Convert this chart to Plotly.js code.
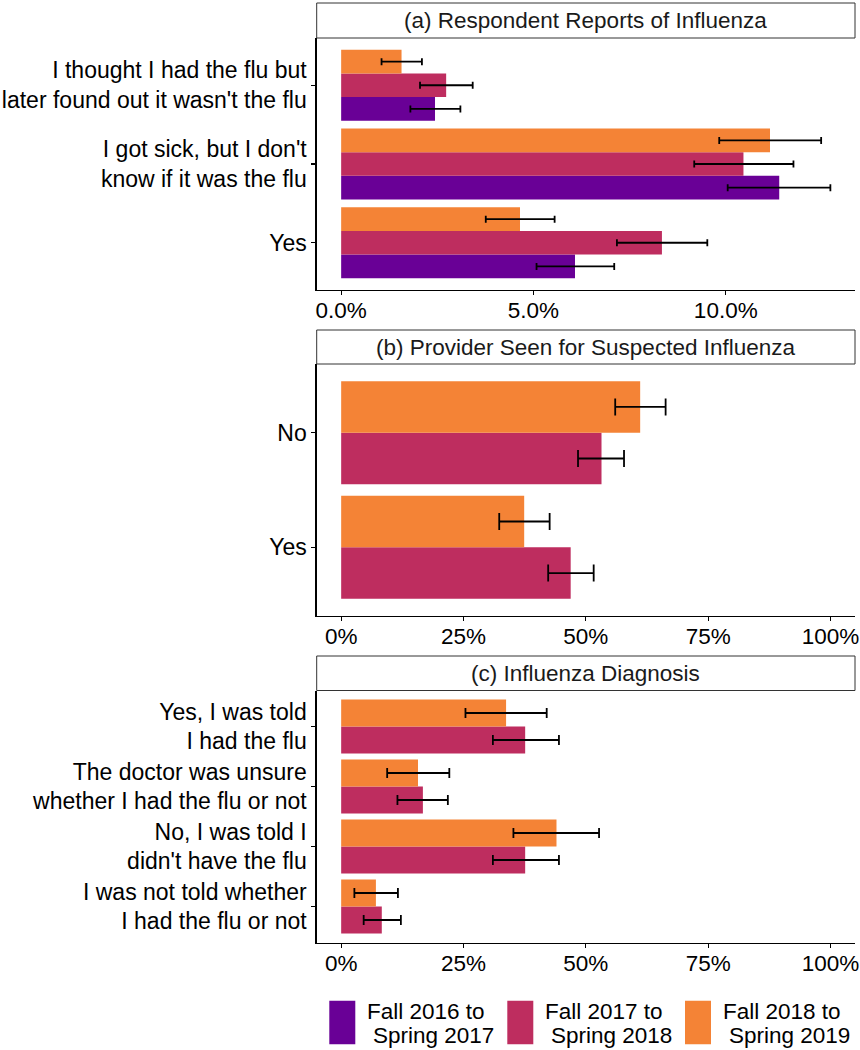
<!DOCTYPE html>
<html>
<head>
<meta charset="utf-8">
<script src="https://cdn.plot.ly/plotly-3.0.1.min.js"></script>
<style>html,body{margin:0;padding:0;background:#fff;}#chart{width:860px;height:1050px;}</style>
</head>
<body>
<div id="chart"></div>
<script>
// ---------- data ----------
const seriesNames = ["Fall 2016 to Spring 2017", "Fall 2017 to Spring 2018", "Fall 2018 to Spring 2019"];
const seriesColors = ["#690096", "#BE2D5F", "#F48336"];

// Panel (a): Respondent Reports of Influenza (bottom -> top)
const catsA = ["Yes", "I got sick, but I don't<br>know if it was the flu", "I thought I had the flu but<br>later found out it wasn't the flu"];
const a2016 = [6.08, 11.39, 2.44];
const a2016Lo = [5.08, 10.05, 1.80];
const a2016Hi = [7.10, 12.72, 3.10];
const a2017 = [8.34, 10.46, 2.73];
const a2017Lo = [7.17, 9.18, 2.05];
const a2017Hi = [9.52, 11.76, 3.42];
const a2018 = [4.65, 11.15, 1.57];
const a2018Lo = [3.76, 9.83, 1.05];
const a2018Hi = [5.55, 12.48, 2.10];
const ticksA = [0, 5, 10];
const tickTextA = ["0.0%", "5.0%", "10.0%"];

// Panel (b): Provider Seen for Suspected Influenza (bottom -> top)
const catsB = ["Yes", "No"];
const b2017 = [46.9, 53.2];
const b2017Lo = [42.3, 48.4];
const b2017Hi = [51.6, 57.8];
const b2018 = [37.4, 61.1];
const b2018Lo = [32.3, 56.0];
const b2018Hi = [42.6, 66.3];

// Panel (c): Influenza Diagnosis (bottom -> top)
const catsC = ["I was not told whether<br>I had the flu or not", "No, I was told I<br>didn't have the flu",
               "The doctor was unsure<br>whether I had the flu or not", "Yes, I was told<br>I had the flu"];
const c2017 = [8.3, 37.6, 16.7, 37.6];
const c2017Lo = [4.6, 31.0, 11.5, 31.0];
const c2017Hi = [12.2, 44.5, 21.8, 44.5];
const c2018 = [7.1, 44.0, 15.7, 33.7];
const c2018Lo = [2.7, 35.2, 9.4, 25.4];
const c2018Hi = [11.6, 52.7, 22.1, 42.0];
const ticksPct = [0, 25, 50, 75, 100];
const tickTextPct = ["0%", "25%", "50%", "75%", "100%"];

const panelTitles = ["(a) Respondent Reports of Influenza", "(b) Provider Seen for Suspected Influenza", "(c) Influenza Diagnosis"];

// ---------- helpers ----------
const W = 860, H = 1050;
const FONT = "Liberation Sans, Arial, Helvetica, sans-serif";
const FS = 22.5;
const py = p => 1 - p / H;   // pixel y -> paper
const px = p => p / W;       // pixel x -> paper

function barTrace(cats, vals, lo, hi, sIdx, axN, capW) {
  return {
    type: "bar", orientation: "h",
    x: vals, y: cats,
    xaxis: "x" + (axN === 1 ? "" : axN), yaxis: "y" + (axN === 1 ? "" : axN),
    name: seriesNames[sIdx], showlegend: false,
    marker: {color: seriesColors[sIdx], line: {width: 0}},
    error_x: {type: "data", symmetric: false,
      array: hi.map((h, i) => h - vals[i]),
      arrayminus: lo.map((l, i) => vals[i] - l),
      color: "#000", thickness: 1.8, width: capW},
    hoverinfo: "x+y+name"
  };
}

const traces = [
  barTrace(catsA, a2016, a2016Lo, a2016Hi, 0, 1, 3.5),
  barTrace(catsA, a2017, a2017Lo, a2017Hi, 1, 1, 3.5),
  barTrace(catsA, a2018, a2018Lo, a2018Hi, 2, 1, 3.5),
  barTrace(catsB, b2017, b2017Lo, b2017Hi, 1, 2, 8.5),
  barTrace(catsB, b2018, b2018Lo, b2018Hi, 2, 2, 8.5),
  barTrace(catsC, c2017, c2017Lo, c2017Hi, 1, 3, 5),
  barTrace(catsC, c2018, c2018Lo, c2018Hi, 2, 3, 5)
];

// panel geometry (pixels)
const xLeft = 316.7, xRight = 855;
const panels = [
  {top: 38, bottom: 290, stripTop: 3},
  {top: 364, bottom: 616, stripTop: 330},
  {top: 690.5, bottom: 942.5, stripTop: 656}
];

const axBase = {
  showline: true, linecolor: "#000", linewidth: 1.4, mirror: false,
  showgrid: false, zeroline: false,
  ticks: "outside", ticklen: 4, tickwidth: 1.3, tickcolor: "#000",
  tickfont: {family: FONT, size: FS, color: "#000"},
  fixedrange: true
};

const layout = {
  width: W, height: H,
  margin: {l: 0, r: 0, t: 0, b: 0},
  paper_bgcolor: "#fff", plot_bgcolor: "#fff",
  barmode: "group", bargap: 0.1, bargroupgap: 0,
  font: {family: FONT, size: FS, color: "#000"},
  showlegend: false,
  shapes: [], annotations: []
};

const xRanges = [[-0.636, 13.36], [-5, 105], [-5, 105]];
const xTicks = [[ticksA, tickTextA], [ticksPct, tickTextPct], [ticksPct, tickTextPct]];
const yCats = [catsA, catsB, catsC];

panels.forEach((p, i) => {
  const n = i + 1, sfx = n === 1 ? "" : String(n);
  layout["xaxis" + sfx] = Object.assign({}, axBase, {
    domain: [px(xLeft), px(xRight)], anchor: "y" + sfx,
    range: xRanges[i], tickvals: xTicks[i][0], ticktext: xTicks[i][1],
    ticklabelstandoff: -4
  });
  layout["yaxis" + sfx] = Object.assign({}, axBase, {
    domain: [py(p.bottom), py(p.top)], anchor: "x" + sfx,
    type: "category", categoryorder: "array", categoryarray: yCats[i],
    range: [-0.6, yCats[i].length - 1 + 0.6],
    tickfont: {family: FONT, size: 23, color: "#000"}
  });
  // strip box
  layout.shapes.push({type: "rect", xref: "paper", yref: "paper",
    x0: px(xLeft), x1: px(xRight), y0: py(p.top), y1: py(p.stripTop),
    line: {color: "#333", width: 1}, fillcolor: "#fff"});
  layout.annotations.push({xref: "paper", yref: "paper",
    x: px((xLeft + xRight) / 2), y: py((p.top + p.stripTop) / 2),
    xanchor: "center", yanchor: "middle", showarrow: false,
    text: panelTitles[i], font: {family: FONT, size: FS, color: "#1a1a1a"}});
});

// legend (drawn from series arrays)
const keyX = [329.3, 507.3, 685];
seriesNames.forEach((nm, i) => {
  layout.shapes.push({type: "rect", xref: "paper", yref: "paper",
    x0: px(keyX[i]), x1: px(keyX[i] + 26), y0: py(1044.3), y1: py(1000.7),
    line: {width: 0}, fillcolor: seriesColors[i]});
  const parts = nm.split(" to ");
  layout.annotations.push({xref: "paper", yref: "paper",
    x: px(keyX[i] + 36), y: py(1011.7), xanchor: "left", yanchor: "middle",
    showarrow: false, text: parts[0] + " to", font: {family: FONT, size: FS, color: "#000"}});
  layout.annotations.push({xref: "paper", yref: "paper",
    x: px(keyX[i] + 42), y: py(1035), xanchor: "left", yanchor: "middle",
    showarrow: false, text: parts[1], font: {family: FONT, size: FS, color: "#000"}});
});

Plotly.newPlot("chart", traces, layout, {displayModeBar: false, staticPlot: true});
</script>
</body>
</html>
